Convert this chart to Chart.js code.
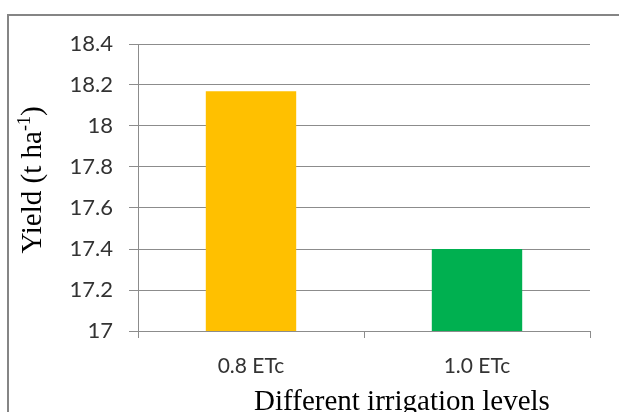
<!DOCTYPE html>
<html>
<head>
<meta charset="utf-8">
<script src="https://cdn.jsdelivr.net/npm/chart.js@4.4.0/dist/chart.umd.min.js"></script>
<style>
  html, body { margin: 0; padding: 0; background: #fff; }
  #wrap { position: relative; width: 619px; height: 412px; overflow: hidden; }
  #frame { position: absolute; left: 7px; top: 14px; width: 700px; height: 500px; border: 2px solid #858585; box-sizing: border-box; }
  canvas { position: absolute; left: 0; top: 0; }
</style>
</head>
<body>
<div id="wrap">
  <div id="frame"></div>
  <canvas id="myChart" width="619" height="412"></canvas>
</div>
<script>
const categories = ["0.8 ETc", "1.0 ETc"];
const yieldValues = [18.17, 17.4];
const barColors = ["#FFC000", "#00B050"];
const yTicks = [17, 17.2, 17.4, 17.6, 17.8, 18, 18.2, 18.4];
const xTitle = "Different irrigation levels";
const yTitle = "Yield (t ha";

const sans = "Lato, 'Open Sans', sans-serif";
const serif = "'Liberation Serif', 'DejaVu Serif', serif";

const titles = {
  id: "titles",
  afterDraw(chart) {
    const ctx = chart.ctx;
    ctx.save();
    ctx.fillStyle = "#000";
    ctx.font = "29px " + serif;
    ctx.textAlign = "center";
    ctx.textBaseline = "alphabetic";
    ctx.fillText(xTitle, 402, 410);

    ctx.translate(41, 180);
    ctx.rotate(-Math.PI / 2);
    ctx.textAlign = "left";
    const w1 = ctx.measureText(yTitle).width;
    ctx.font = "18px " + serif;
    const w2 = ctx.measureText("-1").width;
    ctx.font = "29px " + serif;
    const w3 = ctx.measureText(")").width;
    let x = -(w1 + w2 + w3) / 2;
    ctx.fillText(yTitle, x, 0);
    x += w1;
    ctx.font = "18px " + serif;
    ctx.fillText("-1", x, -11);
    x += w2;
    ctx.font = "29px " + serif;
    ctx.fillText(")", x, 0);
    ctx.restore();
  }
};

new Chart(document.getElementById("myChart"), {
  type: "bar",
  data: {
    labels: categories,
    datasets: [{
      label: "Yield",
      data: yieldValues,
      backgroundColor: barColors,
      borderWidth: 0,
      categoryPercentage: 1,
      barPercentage: 0.4
    }]
  },
  options: {
    responsive: false,
    animation: false,
    layout: { padding: { top: 44, right: 29, left: 0, bottom: 0 } },
    plugins: {
      legend: { display: false },
      tooltip: { enabled: false }
    },
    scales: {
      x: {
        afterFit: s => { s.height = 81; },
        grid: { drawOnChartArea: false, drawTicks: true, tickLength: 7, color: "#8c8c8c" },
        border: { color: "#8c8c8c" },
        ticks: { color: "#333", font: { family: sans, size: 21 }, padding: 16 }
      },
      y: {
        min: 17,
        max: 18.4,
        afterFit: s => { s.width = 138; },
        afterBuildTicks: s => { s.ticks = yTicks.map(v => ({ value: v })); },
        grid: { color: "#8c8c8c", tickLength: 9 },
        border: { color: "#8c8c8c" },
        ticks: {
          color: "#333",
          font: { family: sans, size: 22 },
          padding: 16,
          callback: v => String(+v.toFixed(1))
        }
      }
    }
  },
  plugins: [titles]
});
</script>
</body>
</html>
